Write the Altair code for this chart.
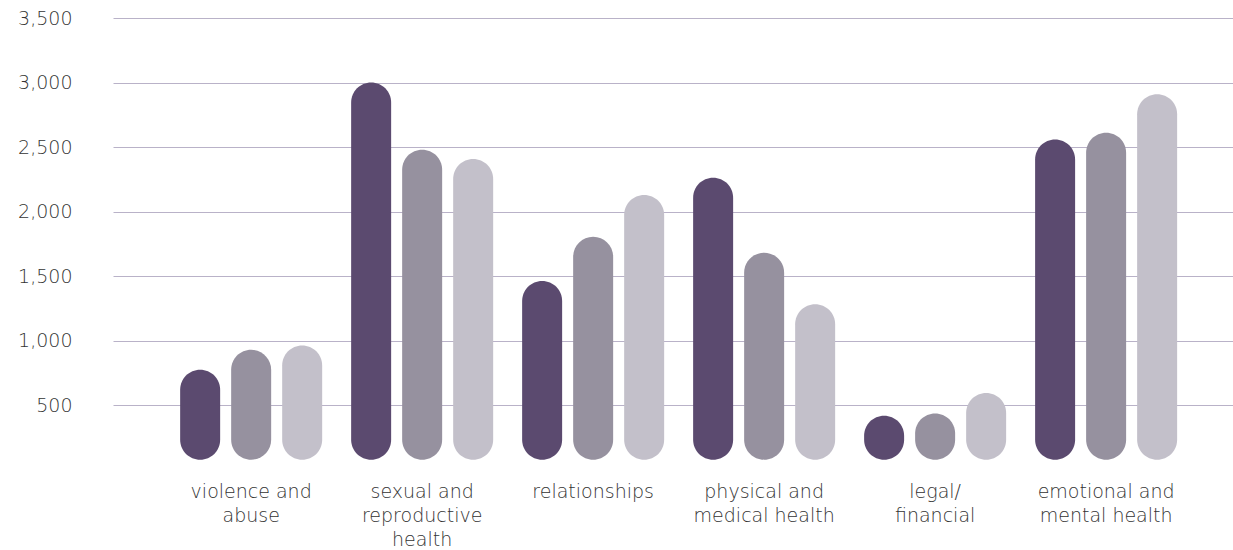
import altair as alt
import pandas as pd

categories = ["violence and\nabuse", "sexual and\nreproductive\nhealth", "relationships",
              "physical and\nmedical health", "legal/\nfinancial", "emotional and\nmental health"]
series = ["s1", "s2", "s3"]
values_s1 = [776, 3000, 1464, 2263, 421, 2560]
values_s2 = [931, 2479, 1807, 1683, 438, 2611]
values_s3 = [964, 2409, 2129, 1284, 596, 2910]
y_ticks = [500, 1000, 1500, 2000, 2500, 3000, 3500]
colors = ["#5b4a6f", "#96919f", "#c3c0ca"]
BASE = 80

rows = []
for i, c in enumerate(categories):
    for s, vals in zip(series, [values_s1, values_s2, values_s3]):
        rows.append({"category": c, "series": s, "value": vals[i], "base": BASE})
df = pd.DataFrame(rows)

FONT = "DejaVu Sans"

chart = alt.Chart(df).mark_bar(width=40, cornerRadius=20).encode(
    x=alt.X("category:N", sort=categories,
            scale=alt.Scale(paddingInner=0, paddingOuter=0.275, align=0.56),
            axis=alt.Axis(title=None, labelAngle=0, domain=False, ticks=False, grid=False,
                          labelExpr="split(datum.label, '\\n')",
                          labelFont=FONT, labelFontSize=19, labelFontWeight=200,
                          labelColor="#333333", labelLineHeight=24, labelPadding=12,
                          labelBaseline="top")),
    xOffset=alt.XOffset("series:N", sort=series,
                        scale=alt.Scale(paddingInner=0, paddingOuter=0.176)),
    y=alt.Y("value:Q", scale=alt.Scale(domain=[0, 3500], nice=False),
            axis=alt.Axis(title=None, values=y_ticks, format=",.0f", domain=False, ticks=False,
                          labelFont=FONT, labelFontSize=19, labelFontWeight=200,
                          labelColor="#333333", labelPadding=41,
                          gridColor="#b9b2c8", gridWidth=1)),
    y2="base:Q",
    color=alt.Color("series:N", sort=series, legend=None,
                    scale=alt.Scale(domain=series, range=colors)),
).properties(
    width=1120, height=452,
    autosize=alt.AutoSizeParams(type="none"),
    padding={"left": 113, "top": 18, "right": 0, "bottom": 80},
    background="white",
).configure_view(stroke=None)

chart.save("out.html", embed_options={"renderer": "svg", "actions": False})
